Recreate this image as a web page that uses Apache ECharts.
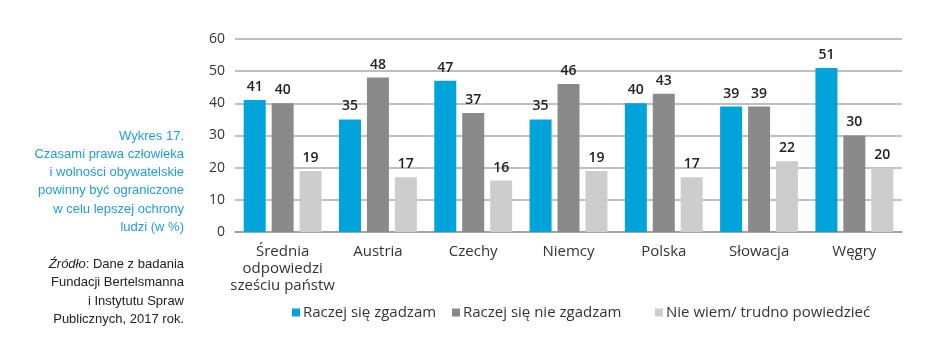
<!DOCTYPE html>
<html><head><meta charset="utf-8">
<script src="https://cdn.jsdelivr.net/npm/echarts@6/dist/echarts.min.js"></script>
<style>html,body{margin:0;padding:0;background:#fff}#c{width:944px;height:364px}</style>
</head><body><div id="c"></div>
<script>
const categories = ['Średnia\nodpowiedzi\nsześciu państw', 'Austria', 'Czechy', 'Niemcy', 'Polska', 'Słowacja', 'Węgry'];
const seriesNames = ['Raczej się zgadzam', 'Raczej się nie zgadzam', 'Nie wiem/ trudno powiedzieć'];
const agree = [41, 35, 47, 35, 40, 39, 51];
const disagree = [40, 48, 37, 46, 43, 39, 30];
const dontKnow = [19, 17, 16, 19, 17, 22, 20];
const yTicks = [0, 10, 20, 30, 40, 50, 60];
const titleLines = ['Wykres 17.', 'Czasami prawa człowieka', 'i wolności obywatelskie', 'powinny być ograniczone', 'w celu lepszej ochrony', 'ludzi (w %)'];
const sourceLines = ['{i|Źródło}: Dane z badania', 'Fundacji Bertelsmanna', 'i Instytutu Spraw', 'Publicznych, 2017 rok.'];

const colors = ['#00A3DA', '#8A8A8A', '#CDCDCD'];
const F = '"Open Sans", sans-serif';
const values = [agree, disagree, dontKnow];

const chart = echarts.init(document.getElementById('c'), null, {renderer: 'canvas'});
const graphics = [];
titleLines.forEach((t, i) => graphics.push({type: 'text', style: {text: t, x: 184, y: 136 + i * 18.3, textAlign: 'right', textVerticalAlign: 'middle', fill: '#1E9FD6', font: '13px "Liberation Sans", Arial, sans-serif'}}));
sourceLines.forEach((t, i) => graphics.push({type: 'text', style: {text: t, x: 184, y: 264 + i * 18.5, textAlign: 'right', textVerticalAlign: 'middle', fill: '#222', font: '13px "Liberation Sans", Arial, sans-serif', rich: {i: {fontStyle: 'italic', fontSize: 13, fontFamily: '"Liberation Sans", Arial, sans-serif', fill: '#222'}}}}));

const legendPos = [292, 452, 655];
chart.setOption({
  animation: false,
  color: colors,
  grid: {left: 235, right: 42, top: 39, bottom: 132},
  legend: seriesNames.map((n, i) => ({
    data: [n], left: legendPos[i], top: 305, padding: 0, itemWidth: 8, itemHeight: 8, itemGap: 0,
    icon: 'rect', textStyle: {fontFamily: F, fontSize: 15, color: '#333', padding: [0, 0, 0, -2]}
  })),
  graphic: graphics,
  xAxis: {
    type: 'category', data: categories,
    axisLine: {show: true, lineStyle: {color: '#999', width: 1.5}},
    axisTick: {show: false},
    axisLabel: {fontFamily: F, fontSize: 15, color: '#333', margin: 11, lineHeight: 17, interval: 0}
  },
  yAxis: {
    type: 'value', min: 0, max: 60, interval: 10,
    axisLine: {show: false}, axisTick: {show: false},
    axisLabel: {fontFamily: F, fontSize: 14, color: '#333', margin: 10, formatter: v => yTicks.includes(v) ? String(v) : ''},
    splitLine: {lineStyle: {color: '#AAAAAA', width: 1.5}}
  },
  series: seriesNames.map((n, i) => ({
    name: n, type: 'bar', data: values[i], barWidth: 22, barGap: '27%',
    itemStyle: {color: colors[i]},
    label: {show: true, position: 'top', distance: 6, fontFamily: F, fontSize: 14, fontWeight: 600, color: '#222'}
  }))
});
</script></body></html>
